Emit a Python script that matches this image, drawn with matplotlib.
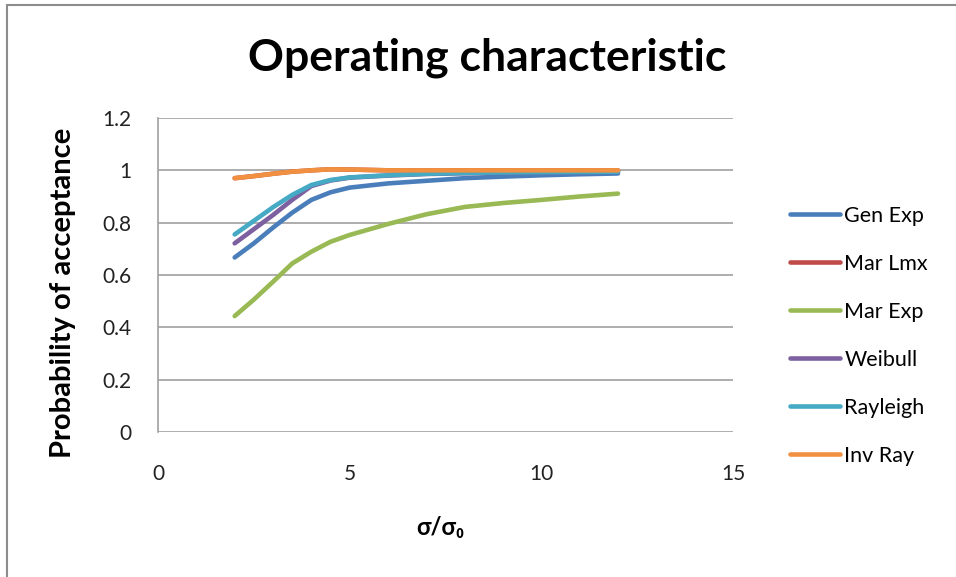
import matplotlib.pyplot as plt
from matplotlib.patches import Rectangle

plt.rcParams['font.family'] = ['Lato', 'DejaVu Sans']

# --- data ---
ratio = [2, 2.5, 3, 3.5, 4, 4.5, 5, 6, 7, 8, 9, 10, 11, 12]
gen_exp = [0.667, 0.721, 0.781, 0.838, 0.887, 0.916, 0.934, 0.950, 0.960, 0.970, 0.976, 0.981, 0.985, 0.988]
mar_lmx = [0.970, 0.978, 0.987, 0.995, 1.000, 1.004, 1.003, 1.000, 1.000, 1.000, 1.000, 1.000, 1.000, 1.000]
mar_exp = [0.443, 0.506, 0.574, 0.644, 0.689, 0.727, 0.753, 0.795, 0.832, 0.860, 0.875, 0.887, 0.900, 0.911]
weibull = [0.721, 0.775, 0.829, 0.887, 0.940, 0.961, 0.972, 0.980, 0.986, 0.989, 0.991, 0.993, 0.994, 0.995]
rayleigh = [0.755, 0.807, 0.859, 0.906, 0.944, 0.963, 0.973, 0.981, 0.987, 0.990, 0.992, 0.993, 0.994, 0.995]
inv_ray = [0.970, 0.978, 0.987, 0.995, 1.000, 1.004, 1.003, 1.000, 1.000, 1.000, 1.000, 1.000, 1.000, 1.000]

series = [
    ("Gen Exp", gen_exp, "#4A7EBB"),
    ("Mar Lmx", mar_lmx, "#BE4B48"),
    ("Mar Exp", mar_exp, "#98B954"),
    ("Weibull", weibull, "#7D60A0"),
    ("Rayleigh", rayleigh, "#46AAC5"),
    ("Inv Ray", inv_ray, "#F09040"),
]

fig = plt.figure(figsize=(9.56, 5.77), dpi=100)
ax = fig.add_axes([158 / 956, 1 - 432 / 577, (733 - 158) / 956, (432 - 118) / 577])

for name, vals, col in series:
    ax.plot(ratio, vals, color=col, lw=3.3, label=name,
            solid_capstyle='round', solid_joinstyle='round')

ax.set_xlim(0, 15)
ax.set_ylim(0, 1.2)
ax.set_xticks([0, 5, 10, 15])
ax.set_yticks([0, 0.2, 0.4, 0.6, 0.8, 1.0, 1.2])
ax.set_yticklabels(["0", "0.2", "0.4", "0.6", "0.8", "1", "1.2"])
ax.grid(axis='y', color='#A0A0A0', lw=1.2)
ax.set_axisbelow(True)
for s in ['top', 'right', 'bottom']:
    ax.spines[s].set_visible(False)
ax.spines['left'].set_color('#A0A0A0')
ax.spines['left'].set_linewidth(1.2)
ax.tick_params(length=0, labelsize=15, colors='#222222', pad=19)
ax.tick_params(axis='x', pad=23)

fig.text(487 / 956, 1 - 58 / 577, "Operating characteristic", ha='center', va='center',
         fontsize=32, fontweight='bold')
fig.text(63 / 956, 1 - 293 / 577, "Probability of acceptance", ha='center', va='center',
         rotation=90, fontsize=21, fontweight='bold')
fig.text(440 / 956, 1 - 528 / 577, "σ/σ₀", ha='center', va='center',
         fontsize=17, fontweight='bold')

fig.legend(loc='center left', bbox_to_anchor=(771 / 956, 1 - 336 / 577), frameon=False,
           fontsize=15.5, handlelength=2.3, handletextpad=0.2, labelspacing=1.3)

# chart border like the Excel frame
fig.patches.append(Rectangle((7 / 956, -0.1), 1.2, 1 - 5 / 577 + 0.1, transform=fig.transFigure,
                             fill=False, edgecolor='#8C8C8C', lw=1.5))

fig.savefig("out.png", dpi=100)
